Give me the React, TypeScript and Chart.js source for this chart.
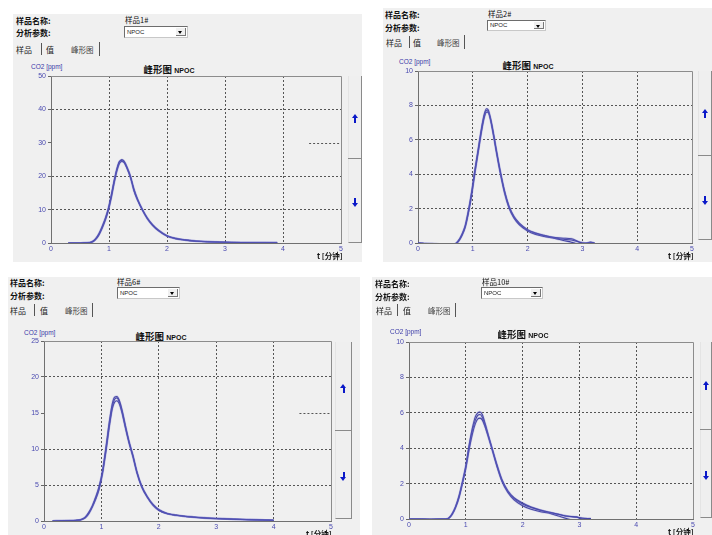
import React, { useEffect, useRef } from 'react';
import { Chart, registerables } from 'chart.js';
Chart.register(...registerables);

// ---------- data ----------
const xTickValues = [0, 1, 2, 3, 4, 5];
const sampleNames = ['样品1#', '样品2#', '样品6#', '样品10#'];
const yMaxes = [50, 10, 25, 10];
const ySteps = [10, 2, 5, 2];

const p1T = [0.3, 0.5, 0.6, 0.7, 0.76, 0.82, 0.88, 0.94, 0.99, 1.04, 1.09, 1.14, 1.18, 1.22, 1.26, 1.31, 1.37, 1.43, 1.5, 1.58, 1.66, 1.75, 1.85, 2.0, 2.15, 2.3, 2.5, 2.7, 3.0, 3.3, 3.6, 3.9];
const p1A = [0, 0, 0.05, 0.3, 1.0, 2.4, 4.6, 7.3, 10.2, 14.0, 18.5, 22.3, 24.3, 25.0, 24.5, 22.8, 20.0, 15.8, 12.6, 9.7, 7.3, 5.3, 3.7, 2.1, 1.3, 0.9, 0.55, 0.35, 0.2, 0.12, 0.1, 0.1];
const p1B = [0, 0, 0.05, 0.25, 0.9, 2.2, 4.3, 7.0, 9.8, 13.6, 18.0, 21.8, 23.8, 24.4, 24.1, 22.5, 19.8, 15.7, 12.6, 9.8, 7.4, 5.4, 3.8, 2.1, 1.3, 0.9, 0.55, 0.35, 0.2, 0.12, 0.1, 0.08];
const p1C = [0, 0, 0.05, 0.3, 1.1, 2.6, 4.9, 7.6, 10.5, 14.4, 18.8, 22.5, 24.4, 24.7, 24.2, 22.4, 19.6, 16.2, 12.8, 9.9, 7.5, 5.5, 3.9, 2.2, 1.4, 0.95, 0.6, 0.4, 0.22, 0.14, 0.1, 0.1];

const p2T = [0, 0.1, 0.2, 0.3, 0.4, 0.5, 0.6, 0.68, 0.74, 0.8, 0.86, 0.92, 0.98, 1.04, 1.1, 1.16, 1.21, 1.25, 1.28, 1.32, 1.37, 1.43, 1.5, 1.58, 1.66, 1.75, 1.85, 2.0, 2.15, 2.3, 2.5, 2.65, 2.8, 2.95, 3.05, 3.15, 3.22];
const p2A = [0, -0.02, -0.05, -0.05, -0.08, -0.1, -0.1, -0.05, 0.15, 0.5, 1.0, 1.9, 3.0, 4.3, 5.5, 6.7, 7.5, 7.8, 7.75, 7.3, 6.5, 5.4, 4.2, 3.0, 2.1, 1.5, 1.1, 0.75, 0.55, 0.42, 0.3, 0.22, 0.18, 0.05, -0.02, 0.02, 0];
const p2B = [0, -0.03, -0.04, -0.06, -0.07, -0.09, -0.1, -0.06, 0.12, 0.45, 0.95, 1.8, 2.9, 4.2, 5.4, 6.6, 7.4, 7.7, 7.65, 7.25, 6.45, 5.35, 4.15, 3.0, 2.15, 1.55, 1.15, 0.78, 0.58, 0.45, 0.32, 0.28, 0.25, 0.05, 0, 0, -0.02];
const p2C = [0, -0.02, -0.03, -0.05, -0.06, -0.08, -0.09, -0.05, 0.1, 0.42, 0.9, 1.75, 2.8, 4.1, 5.3, 6.5, 7.3, 7.6, 7.6, 7.2, 6.4, 5.3, 4.1, 2.9, 2.05, 1.45, 1.05, 0.7, 0.5, 0.38, 0.26, 0.15, 0.05, -0.08, -0.05, 0.05, -0.02];

const p3T = [0.15, 0.3, 0.45, 0.55, 0.65, 0.72, 0.78, 0.84, 0.9, 0.96, 1.02, 1.08, 1.14, 1.19, 1.23, 1.27, 1.31, 1.36, 1.42, 1.48, 1.55, 1.62, 1.7, 1.8, 1.9, 2.0, 2.15, 2.3, 2.5, 2.7, 3.0, 3.3, 3.6, 4.0];
const p3A = [0, 0.02, 0.05, 0.08, 0.2, 0.5, 1.1, 2.0, 3.2, 4.6, 6.8, 10.0, 13.5, 15.9, 16.9, 17.1, 16.6, 15.2, 13.0, 11.0, 9.0, 6.7, 4.8, 3.3, 2.2, 1.5, 1.0, 0.8, 0.6, 0.48, 0.35, 0.25, 0.18, 0.1];
const p3B = [0, 0.02, 0.05, 0.08, 0.18, 0.45, 1.0, 1.9, 3.0, 4.4, 6.6, 9.7, 13.2, 15.6, 16.5, 16.7, 16.3, 15.0, 12.9, 10.9, 8.9, 6.7, 4.8, 3.3, 2.2, 1.5, 1.0, 0.8, 0.6, 0.46, 0.33, 0.24, 0.17, 0.1];
const p3C = [0, 0.02, 0.05, 0.09, 0.22, 0.55, 1.2, 2.1, 3.3, 4.8, 7.0, 10.3, 13.9, 16.3, 17.2, 17.3, 16.8, 15.4, 13.2, 11.1, 9.1, 6.8, 4.9, 3.4, 2.3, 1.6, 1.05, 0.82, 0.62, 0.5, 0.36, 0.26, 0.19, 0.1];

const p4T = [0, 0.2, 0.4, 0.55, 0.65, 0.7, 0.76, 0.82, 0.88, 0.94, 1.0, 1.06, 1.12, 1.17, 1.21, 1.25, 1.29, 1.34, 1.4, 1.47, 1.55, 1.64, 1.74, 1.85, 2.0, 2.15, 2.3, 2.5, 2.65, 2.8, 2.95, 3.05, 3.2, 3.42];
const p4A = [0, 0, -0.02, 0, 0, 0.05, 0.3, 0.7, 1.3, 2.1, 3.0, 4.2, 5.2, 5.8, 6.0, 6.05, 5.9, 5.4, 4.7, 3.9, 3.0, 2.15, 1.55, 1.15, 0.85, 0.65, 0.5, 0.35, 0.25, 0.15, 0.1, 0.05, 0.02, null];
const p4B = [0, 0, -0.02, 0, 0, 0.05, 0.28, 0.68, 1.25, 2.05, 2.95, 4.1, 5.05, 5.6, 5.85, 5.9, 5.75, 5.3, 4.65, 3.9, 3.05, 2.2, 1.6, 1.2, 0.9, 0.68, 0.52, 0.36, 0.25, 0.15, 0.12, 0.0, 0.02, null];
const p4C = [0, 0, -0.02, 0, 0, 0.04, 0.26, 0.65, 1.2, 2.0, 2.85, 3.95, 4.85, 5.4, 5.65, 5.7, 5.6, 5.2, 4.6, 3.85, 2.95, 2.1, 1.5, 1.08, 0.75, 0.55, 0.42, 0.3, 0.15, 0.0, -0.1, -0.13, -0.15, -0.1];

const seriesByPanel = [
  { t: p1T, runs: [p1A, p1B, p1C] },
  { t: p2T, runs: [p2A, p2B, p2C] },
  { t: p3T, runs: [p3A, p3B, p3C] },
  { t: p4T, runs: [p4A, p4B, p4C] },
];
const hiddenGrid = [30, null, 15, null];

// ---------- layout ----------
type Layout = {
  bg: [number, number, number, number];
  lbl: [number, number, number];
  name: [number, number];
  dd: [number, number, number, number];
  tabs: { y: number; s1: number; sep1: number; s2: number; s3: number; sep2: number };
  title: [number, number];
  co2: [number, number];
  plot: { l: number; t: number; r: number; b: number };
  tl: [number, number];
  scroll: { x: number; y: number; w: number; h: number; div: number; up: number; down: number };
};

const layouts: Layout[] = [
  {
    bg: [13, 14, 349, 248], lbl: [16, 20, 32], name: [125, 19], dd: [124, 26, 64, 12],
    tabs: { y: 49, s1: 16, sep1: 41, s2: 46, s3: 71, sep2: 99 },
    title: [169, 66], co2: [31, 66], plot: { l: 51, t: 76, r: 341, b: 243 }, tl: [317, 255],
    scroll: { x: 348, y: 76, w: 14, h: 167, div: 158, up: 118, down: 202 },
  },
  {
    bg: [383, 8, 329, 254], lbl: [385, 14, 27], name: [488, 13], dd: [487, 20, 59, 11],
    tabs: { y: 42, s1: 386, sep1: 409, s2: 413, s3: 437, sep2: 464 },
    title: [528, 62], co2: [399, 61], plot: { l: 418, t: 71, r: 692, b: 243 }, tl: [668, 255],
    scroll: { x: 698, y: 71, w: 14, h: 169, div: 155, up: 113, down: 200 },
  },
  {
    bg: [8, 277, 352, 258], lbl: [10, 282, 295], name: [117, 281], dd: [117, 287, 63, 12],
    tabs: { y: 310, s1: 10, sep1: 34, s2: 40, s3: 65, sep2: 92 },
    title: [161, 333], co2: [24, 332], plot: { l: 44, t: 341, r: 331, b: 521 }, tl: [306, 533],
    scroll: { x: 335, y: 342, w: 17, h: 177, div: 430, up: 388, down: 476 },
  },
  {
    bg: [372, 277, 340, 258], lbl: [375, 283, 296], name: [482, 281], dd: [481, 287, 62, 12],
    tabs: { y: 310, s1: 376, sep1: 397, s2: 403, s3: 428, sep2: 455 },
    title: [523, 331], co2: [390, 331], plot: { l: 409, t: 342, r: 693, b: 519 }, tl: [668, 531],
    scroll: { x: 700, y: 342, w: 12, h: 176, div: 429, up: 385, down: 475 },
  },
];

const CJK = '"Noto Sans CJK SC", "Liberation Sans", sans-serif';
const SANS = '"Liberation Sans", "DejaVu Sans", sans-serif';
const PAD_L = 40, PAD_T = 12, PAD_R = 12, PAD_B = 22;

function Txt(props: { x: number; cy: number; size: number; bold?: boolean; color?: string; family?: string; children: React.ReactNode; center?: boolean }) {
  const h = Math.round(props.size * 1.4);
  return (
    <div style={{
      position: 'absolute', left: props.x, top: props.cy - h / 2, height: h, lineHeight: h + 'px',
      fontSize: props.size, fontWeight: props.bold ? 700 : 400, color: props.color || '#111',
      fontFamily: props.family || CJK, whiteSpace: 'nowrap',
      transform: props.center ? 'translateX(-50%)' : undefined,
    }}>{props.children}</div>
  );
}

function Arrow({ x, y, up }: { x: number; y: number; up: boolean }) {
  const c = '#0a18c8';
  return (
    <div style={{ position: 'absolute', left: x - 3, top: y - 4, width: 7, height: 9 }}>
      <div style={{
        position: 'absolute', left: 0, top: up ? 0 : 5, width: 0, height: 0,
        borderLeft: '3.5px solid transparent', borderRight: '3.5px solid transparent',
        ...(up ? { borderBottom: '4px solid ' + c } : { borderTop: '4px solid ' + c }),
      }} />
      <div style={{ position: 'absolute', left: 2.5, top: up ? 4 : 0, width: 2, height: 5, background: c }} />
    </div>
  );
}

function Panel({ idx }: { idx: number }) {
  const ref = useRef<HTMLCanvasElement>(null);
  const L = layouts[idx];
  const W = L.plot.r - L.plot.l + PAD_L + PAD_R;
  const H = L.plot.b - L.plot.t + PAD_T + PAD_B;

  useEffect(() => {
    const s = seriesByPanel[idx];
    const yMax = yMaxes[idx];
    const hid = hiddenGrid[idx];
    const mk = (run: (number | null)[], color: string, width: number) => ({
      data: s.t.map((t, i) => ({ x: t, y: run[i] as number | null })),
      borderColor: color,
      borderWidth: width,
      pointRadius: 0,
      cubicInterpolationMode: 'monotone',
      fill: false,
      spanGaps: false,
    });
    const datasets = [
      ...s.runs.map((run) => mk(run, 'rgba(110,110,205,0.28)', 2.2)),
      ...s.runs.map((run) => mk(run, 'rgba(30,30,135,0.9)', 1.05)),
    ];
    const framePlugin = {
      id: 'frame' + idx,
      beforeDatasetsDraw(chart: any) {
        const { ctx, chartArea: { left, top, right, bottom } } = chart;
        ctx.save();
        ctx.strokeStyle = '#8c8c8c';
        ctx.lineWidth = 1;
        ctx.beginPath();
        ctx.moveTo(left, top + 0.5);
        ctx.lineTo(right + 0.5, top + 0.5);
        ctx.lineTo(right + 0.5, bottom);
        ctx.stroke();
        if (hid !== null) {
          const yy = Math.round(chart.scales.y.getPixelForValue(hid)) + 0.5;
          ctx.strokeStyle = '#555';
          ctx.setLineDash([2, 2]);
          ctx.beginPath();
          ctx.moveTo(chart.scales.x.getPixelForValue(4.45), yy);
          ctx.lineTo(right, yy);
          ctx.stroke();
        }
        ctx.restore();
      },
    };
    const chart = new Chart(ref.current as HTMLCanvasElement, {
      type: 'line',
      data: { datasets: datasets as any },
      options: {
        animation: false,
        responsive: false,
        devicePixelRatio: 1,
        layout: { padding: { left: 0, top: PAD_T, right: PAD_R, bottom: 0 } },
        plugins: { legend: { display: false }, tooltip: { enabled: false }, title: { display: false } },
        scales: {
          x: {
            type: 'linear', min: 0, max: 5,
            afterBuildTicks: (sc: any) => { sc.ticks = xTickValues.map((v) => ({ value: v })); },
            afterFit: (sc: any) => { sc.height = PAD_B; },
            ticks: { color: '#4a4ab0', font: { size: 7, family: SANS }, padding: 2, maxRotation: 0 },
            grid: {
              drawTicks: false,
              color: (c: any) => (c.tick && (c.tick.value === 0 || c.tick.value === 5) ? 'rgba(0,0,0,0)' : '#555'),
            },
            border: { display: true, color: '#707070', width: 1, dash: [2, 2] },
          },
          y: {
            type: 'linear', min: 0, max: yMax,
            ticks: { stepSize: ySteps[idx], color: '#4a4ab0', font: { size: 7, family: SANS }, padding: 2 },
            afterFit: (sc: any) => { sc.width = PAD_L; },
            grid: {
              drawTicks: true, tickLength: 3, tickColor: '#666',
              color: (c: any) => (c.tick && (c.tick.value === 0 || c.tick.value === yMax || c.tick.value === hid) ? 'rgba(0,0,0,0)' : '#555'),
            },
            border: { display: true, color: '#707070', width: 1, dash: [2, 2] },
          },
        },
      },
      plugins: [framePlugin],
    });
    return () => chart.destroy();
  }, [idx]);

  const [bx, by, bw, bh] = L.bg;
  const [dx, dy, dw, dh] = L.dd;
  const sc = L.scroll;
  return (
    <>
      <div style={{ position: 'absolute', left: bx, top: by, width: bw, height: bh, background: '#f0f0f0' }} />
      <Txt x={L.lbl[0]} cy={L.lbl[1]} size={8} bold>样品名称:</Txt>
      <Txt x={L.lbl[0]} cy={L.lbl[2]} size={8} bold>分析参数:</Txt>
      <Txt x={L.name[0]} cy={L.name[1]} size={7.5}>{sampleNames[idx]}</Txt>
      <div style={{
        position: 'absolute', left: dx, top: dy, width: dw, height: dh, background: '#fff', boxSizing: 'border-box',
        borderTop: '1px solid #6d6d6d', borderLeft: '1px solid #6d6d6d', borderRight: '1px solid #c8c8c8', borderBottom: '1px solid #c8c8c8',
      }}>
        <div style={{ position: 'absolute', left: 2, top: 0, fontSize: 6, lineHeight: (dh - 2) + 'px', fontFamily: SANS, color: '#222' }}>NPOC</div>
        <div style={{ position: 'absolute', right: 1, top: 1, width: 9, bottom: 1, background: '#f0f0f0', borderRight: '1px solid #777', borderBottom: '1px solid #777' }}>
          <div style={{ position: 'absolute', left: 2, top: 3, width: 0, height: 0, borderLeft: '2.5px solid transparent', borderRight: '2.5px solid transparent', borderTop: '3px solid #000' }} />
        </div>
      </div>
      <Txt x={L.tabs.s1} cy={L.tabs.y} size={8} color="#222">样品</Txt>
      <div style={{ position: 'absolute', left: L.tabs.sep1, top: L.tabs.y - 6, width: 1, height: 12, background: '#555' }} />
      <Txt x={L.tabs.s2} cy={L.tabs.y} size={8} color="#222">值</Txt>
      <Txt x={L.tabs.s3} cy={L.tabs.y} size={7.5} color="#444">峰形图</Txt>
      <div style={{ position: 'absolute', left: L.tabs.sep2, top: L.tabs.y - 7, width: 1, height: 14, background: '#555' }} />
      <div style={{ position: 'absolute', left: L.title[0], top: L.title[1] - 7, height: 14, lineHeight: '14px', transform: 'translateX(-50%)', whiteSpace: 'nowrap', color: '#111' }}>
        <span style={{ fontFamily: '"Noto Sans CJK SC", serif', fontWeight: 700, fontSize: 9.5 }}>峰形图 </span>
        <span style={{ fontFamily: SANS, fontWeight: 700, fontSize: 7 }}>NPOC</span>
      </div>
      <Txt x={L.co2[0]} cy={L.co2[1]} size={6.5} color="#3a3aa8" family={SANS}>CO2 [ppm]</Txt>
      <canvas ref={ref} width={W} height={H}
        style={{ position: 'absolute', left: L.plot.l - PAD_L, top: L.plot.t - PAD_T, width: W, height: H }} />
      <Txt x={L.tl[0]} cy={L.tl[1]} size={7.5} bold>t [分钟]</Txt>
      <div style={{
        position: 'absolute', left: sc.x, top: sc.y, width: sc.w, height: sc.h, boxSizing: 'border-box',
        borderLeft: '1px solid #e4e4e4', borderRight: '1px solid #8a8a8a', borderBottom: '1px solid #8a8a8a', background: '#efefef',
      }} />
      <div style={{ position: 'absolute', left: sc.x, top: sc.div, width: sc.w, height: 1, background: '#8a8a8a' }} />
      <Arrow x={sc.x + sc.w / 2 - 0.5} y={sc.up} up />
      <Arrow x={sc.x + sc.w / 2 - 0.5} y={sc.down} up={false} />
    </>
  );
}

export default function App() {
  return (
    <div style={{ position: 'absolute', left: 0, top: 0, width: 712, height: 535, background: '#fff', overflow: 'hidden', fontFamily: CJK }}>
      {[0, 1, 2, 3].map((i) => <Panel key={i} idx={i} />)}
    </div>
  );
}
